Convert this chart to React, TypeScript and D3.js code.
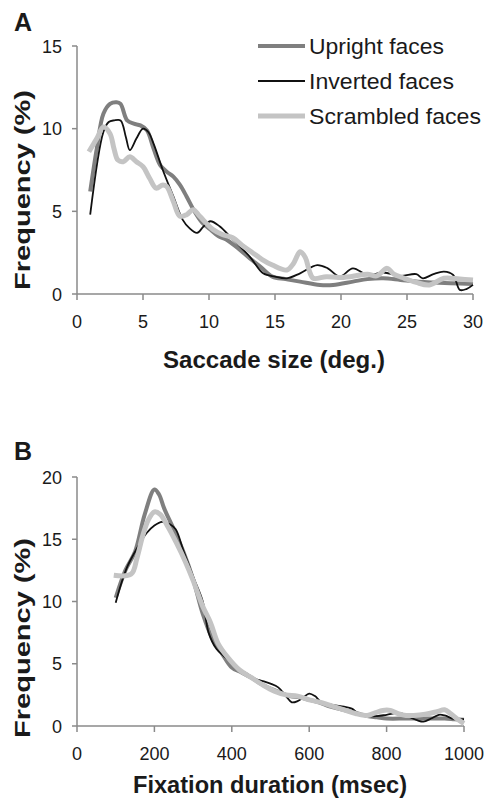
import * as d3 from "d3";

// ── Panel A: saccade size (deg.) vs frequency (%) ─────────
const saccUpright: [number, number][] = [
  [1.0, 6.2], [1.5, 8.8], [2.0, 10.9], [2.5, 11.5], [3.0, 11.6], [3.3, 11.5],
  [3.8, 10.5], [4.3, 10.3], [4.8, 10.2], [5.3, 9.9], [5.8, 8.8], [6.3, 7.8],
  [6.8, 7.4], [7.3, 7.1], [7.8, 6.6], [8.3, 5.9], [8.9, 5.0], [9.5, 4.3],
  [10.1, 3.9], [10.7, 3.5], [11.3, 3.3], [12.3, 2.7], [13.1, 2.15], [13.9, 1.65],
  [14.8, 1.05], [15.8, 0.9], [16.9, 0.75], [18.4, 0.55], [19.4, 0.55], [20.9, 0.75],
  [22.0, 0.9], [23.2, 0.95], [24.5, 0.85], [25.7, 0.75], [27.0, 0.7], [28.3, 0.65],
  [30.0, 0.6],
];
const saccInverted: [number, number][] = [
  [1.0, 4.8], [2.0, 9.8], [2.4, 10.4], [2.8, 10.5], [3.3, 10.5], [3.7, 9.5],
  [4.0, 8.7], [4.5, 9.4], [5.0, 10.0], [5.4, 9.8], [5.8, 9.1], [6.5, 7.5],
  [7.3, 5.9], [8.0, 4.5], [8.5, 4.0], [9.1, 3.7], [9.6, 4.1], [10.1, 4.4],
  [10.8, 4.1], [11.8, 3.3], [13.1, 2.25], [14.1, 1.25], [15.0, 1.05], [15.9, 0.95],
  [16.9, 1.25], [18.2, 1.75], [19.0, 1.55], [19.9, 1.05], [20.9, 1.55], [22.0, 1.15],
  [23.2, 1.3], [24.5, 1.1], [25.7, 1.2], [26.2, 0.95], [27.0, 1.2], [27.8, 1.35],
  [28.5, 1.15], [29.0, 0.25], [29.5, 0.3], [30.0, 0.55],
];
const saccScrambled: [number, number][] = [
  [0.9, 8.6], [1.5, 9.4], [2.0, 10.1], [2.5, 9.7], [2.8, 8.8], [3.1, 8.1],
  [3.5, 8.0], [4.0, 8.3], [4.5, 8.0], [5.0, 7.7], [5.5, 7.0], [6.0, 6.4],
  [6.5, 6.6], [6.8, 6.5], [7.3, 5.6], [7.8, 4.7], [8.3, 4.8], [8.8, 5.1],
  [9.3, 4.7], [10.3, 3.9], [11.0, 3.6], [11.8, 3.4], [12.5, 2.95], [13.3, 2.5],
  [14.0, 2.1], [14.8, 1.75], [15.9, 1.45], [16.4, 1.85], [16.9, 2.55], [17.3, 2.2],
  [17.6, 1.4], [17.9, 0.95], [18.9, 1.05], [19.8, 1.0], [20.7, 1.05], [22.0, 1.2],
  [22.7, 1.1], [23.5, 1.55], [24.0, 1.2], [24.8, 0.95], [25.7, 0.7], [26.7, 0.55],
  [27.8, 0.95], [29.0, 0.9], [30.0, 0.85],
];

// ── Panel B: fixation duration (msec) vs frequency (%) ────
const fixUpright: [number, number][] = [
  [100, 10.3], [125, 12.5], [150, 14.0], [175, 17.0], [200, 19.0], [212, 18.6],
  [225, 17.5], [250, 15.8], [275, 14.0], [300, 11.8], [325, 9.0], [350, 7.0],
  [375, 5.8], [400, 4.7], [425, 4.3], [450, 3.9], [475, 3.4], [500, 3.0],
  [525, 2.7], [550, 2.4], [575, 2.3], [600, 2.1], [625, 1.9], [650, 1.6],
  [675, 1.4], [700, 1.2], [725, 1.0], [750, 0.8], [775, 0.7], [800, 0.6],
  [850, 0.6], [900, 0.6], [950, 0.6], [975, 0.55], [1000, 0.5],
];
const fixInverted: [number, number][] = [
  [100, 9.9], [115, 11.5], [130, 12.8], [150, 14.0], [165, 14.8], [180, 15.5],
  [200, 16.1], [220, 16.4], [240, 16.2], [255, 15.8], [275, 14.1], [300, 12.0],
  [325, 10.0], [340, 7.5], [360, 6.2], [380, 5.6], [400, 5.1], [420, 4.5],
  [440, 4.2], [460, 3.8], [480, 3.6], [500, 3.4], [520, 3.1], [540, 2.4],
  [555, 1.9], [570, 2.0], [585, 2.3], [600, 2.6], [615, 2.4], [630, 1.95],
  [660, 1.7], [690, 1.55], [710, 1.4], [725, 1.05], [750, 0.8], [775, 0.8],
  [800, 0.9], [835, 1.05], [860, 0.7], [880, 0.45], [895, 0.35], [915, 0.6],
  [935, 0.9], [950, 0.85], [975, 0.55], [1000, 0.55],
];
const fixScrambled: [number, number][] = [
  [95, 12.1], [140, 12.2], [155, 13.5], [170, 15.3], [185, 16.6], [200, 17.2],
  [215, 17.0], [235, 16.0], [257, 14.7], [280, 13.2], [300, 11.7], [325, 9.6],
  [345, 8.3], [365, 6.6], [390, 5.5], [420, 4.5], [450, 3.9], [480, 3.3],
  [510, 2.8], [540, 2.5], [570, 2.4], [600, 2.1], [630, 1.9], [660, 1.6],
  [690, 1.3], [720, 1.0], [750, 0.85], [770, 1.05], [790, 1.25], [810, 1.25],
  [830, 1.0], [850, 0.85], [870, 0.85], [900, 0.95], [930, 1.15], [950, 1.3],
  [965, 1.0], [985, 0.5], [1000, 0.2],
];

const saccXTicks = [0, 5, 10, 15, 20, 25, 30];
const saccYTicks = [0, 5, 10, 15];
const fixXTicks = [0, 200, 400, 600, 800, 1000];
const fixYTicks = [0, 5, 10, 15, 20];

const legendLabels = ["Upright faces", "Inverted faces", "Scrambled faces"];

// ── Styles ────────────────────────────────────────────────
const FONT = "'Liberation Sans', Arial, Helvetica, sans-serif";
const AXIS_COLOR = "#8a8a8a";
const TEXT_COLOR = "#1a1a1a";
const seriesStyle = [
  { color: "#7f7f7f", width: 4 },   // upright
  { color: "#111111", width: 1.8 }, // inverted
  { color: "#c4c4c4", width: 5 },   // scrambled
];

const line = (x: d3.ScaleLinear<number, number>, y: d3.ScaleLinear<number, number>) =>
  d3.line<[number, number]>()
    .x(d => x(d[0]))
    .y(d => y(d[1]))
    .curve(d3.curveCatmullRom.alpha(0.5));

type PanelProps = {
  letter: string;
  letterY: number;
  xDomain: [number, number];
  yDomain: [number, number];
  x0: number; x1: number;
  y0: number; y1: number;
  xTicks: number[];
  yTicks: number[];
  series: [number, number][][];
  xTitle: string;
  xTitleY: number;
  xTitleX: number;
  xTitleLen: number;
  yTitleY: number;
};

function Panel(p: PanelProps) {
  const x = d3.scaleLinear().domain(p.xDomain).range([p.x0, p.x1]);
  const y = d3.scaleLinear().domain(p.yDomain).range([p.y0, p.y1]);
  const gen = line(x, y);
  return (
    <g>
      <text x={14} y={p.letterY} fontSize={25} fontWeight={700}
        fontFamily={FONT} fill={TEXT_COLOR}>{p.letter}</text>

      {/* axes */}
      <line x1={p.x0} x2={p.x0} y1={p.y0} y2={p.y1} stroke={AXIS_COLOR} strokeWidth={1.5} />
      <line x1={p.x0} x2={p.x1} y1={p.y0} y2={p.y0} stroke={AXIS_COLOR} strokeWidth={1.5} />
      {p.yTicks.map(t => (
        <g key={"y" + t}>
          <line x1={p.x0 - 5} x2={p.x0} y1={y(t)} y2={y(t)} stroke={AXIS_COLOR} strokeWidth={1.5} />
          <text x={p.x0 - 15} y={y(t) + 6.5} textAnchor="end" fontSize={18}
            fontFamily={FONT} fill={TEXT_COLOR}>{t}</text>
        </g>
      ))}
      {p.xTicks.map(t => (
        <g key={"x" + t}>
          <line x1={x(t)} x2={x(t)} y1={p.y0} y2={p.y0 + 6} stroke={AXIS_COLOR} strokeWidth={1.5} />
          <text x={x(t)} y={p.y0 + 34} textAnchor="middle" fontSize={18}
            fontFamily={FONT} fill={TEXT_COLOR}>{t}</text>
        </g>
      ))}

      {/* titles */}
      <text x={p.xTitleX} y={p.xTitleY} textAnchor="middle" fontSize={23} fontWeight={700}
        fontFamily={FONT} fill={TEXT_COLOR}
        textLength={p.xTitleLen} lengthAdjust="spacingAndGlyphs">{p.xTitle}</text>
      <text transform={`translate(30, ${p.yTitleY}) rotate(-90)`} textAnchor="middle"
        fontSize={22} fontWeight={700} fontFamily={FONT} fill={TEXT_COLOR}
        textLength={200} lengthAdjust="spacingAndGlyphs">Frequency (%)</text>

      {/* series */}
      {p.series.map((s, i) => (
        <path key={i} d={gen(s) ?? ""} fill="none"
          stroke={seriesStyle[i].color} strokeWidth={seriesStyle[i].width}
          strokeLinejoin="round" strokeLinecap="butt" />
      ))}
    </g>
  );
}

export default function App() {
  const legendYs = [46, 81, 116];
  const legendLens = [135, 145, 172];
  return (
    <svg width={487} height={798} viewBox="0 0 487 798"
      style={{ position: "absolute", left: 0, top: 0, background: "#fff" }}>
      <rect width={487} height={798} fill="#fff" />
      <Panel
        letter="A" letterY={31}
        xDomain={[0, 30]} yDomain={[0, 15]}
        x0={77} x1={473} y0={294} y1={46}
        xTicks={saccXTicks} yTicks={saccYTicks}
        series={[saccUpright, saccInverted, saccScrambled]}
        xTitle="Saccade size (deg.)" xTitleX={274} xTitleY={368} xTitleLen={222}
        yTitleY={190}
      />
      <Panel
        letter="B" letterY={460}
        xDomain={[0, 1000]} yDomain={[0, 20]}
        x0={77} x1={464} y0={726} y1={477}
        xTicks={fixXTicks} yTicks={fixYTicks}
        series={[fixUpright, fixInverted, fixScrambled]}
        xTitle="Fixation duration (msec)" xTitleX={270} xTitleY={793} xTitleLen={274}
        yTitleY={638}
      />

      {/* legend */}
      {legendLabels.map((l, i) => (
        <g key={l}>
          <line x1={258} x2={305} y1={legendYs[i]} y2={legendYs[i]}
            stroke={seriesStyle[i].color} strokeWidth={seriesStyle[i].width} />
          <text x={309} y={legendYs[i] + 8} fontSize={22} fontFamily={FONT} fill={TEXT_COLOR}
            textLength={legendLens[i]} lengthAdjust="spacingAndGlyphs">{l}</text>
        </g>
      ))}
    </svg>
  );
}
